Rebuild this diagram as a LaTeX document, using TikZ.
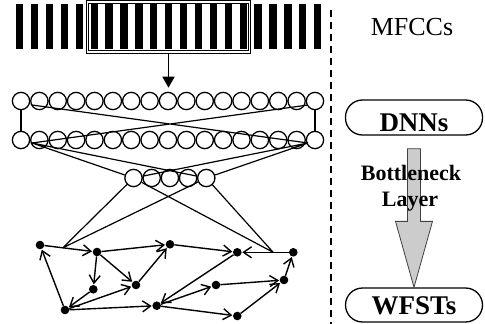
\documentclass[tikz,border=0pt]{standalone}
\usepackage{fontspec}
\setmainfont{Liberation Serif}
\usetikzlibrary{arrows.meta, calc}

\begin{document}
\begin{tikzpicture}[x=1pt, y=-1pt,
    neuron/.style={circle, draw, line width=1.3pt, minimum size=17.3pt, inner sep=0pt},
    state/.style={circle, fill, minimum size=8.6pt, inner sep=0pt},
    trans/.style={-{Straight Barb[length=8pt,width=11pt]}, line width=1.4pt, shorten >=0.5pt},
    link/.style={line width=1.2pt},
    stage/.style={draw, line width=1.3pt, rounded corners=17pt, minimum width=137pt,
        inner ysep=0pt, text depth=0pt, font=\fontsize{27}{30}\selectfont\bfseries}]
    \useasboundingbox (0,0) rectangle (485,324);
    % feature frames
    \foreach \i in {0,...,20}
        \fill (16+14.9*\i,4) rectangle ++(7.3,45);
    \node[draw, double, line width=1pt, double distance=1.4pt, minimum width=161.5pt,
        minimum height=50pt, inner sep=0pt] (win) at (168.5,27) {};
    % network
    \foreach \i in {0,...,16} {
        \node[neuron] (a\i) at (21+18.375*\i,101) {};
        \node[neuron] (b\i) at (21+18.375*\i,140) {};
    }
    \foreach \i in {0,...,4}
        \node[neuron] (c\i) at (133.5+18.2*\i,178) {};
    \draw[line width=1.8pt, -{Triangle[length=11pt,width=12pt]}, shorten >=4pt] (win.south) -- (win.south |- a8.north);
    \draw[link] (a0) -- (b0) (a16) -- (b16);
    \coordinate (tl) at (32,105);
    \coordinate (tr) at (308,105);
    \coordinate (bl) at (32,143);
    \coordinate (br) at (308,143);
    \draw[link] (tl) -- (br) (tr) -- (bl);
    \draw[link] (bl) -- (c0) (bl) -- (c4) (br) -- (c0) (br) -- (c4);
    % decoding graph
    \foreach \n/\x/\y in {1/40/245, 2/97/252, 3/170/244.3, 4/237.3/252.3, 5/293.3/252.3,
        6/93.3/289.3, 7/136/285, 8/216/285, 9/284/280, 10/65/310, 11/156.7/305.7, 12/237.3/316}
        \node[state] (s\n) at (\x,\y) {};
    \foreach \u/\v in {1/2, 2/3, 3/4, 5/4, 2/6, 2/7, 7/3, 10/1, 6/10, 10/7, 10/11, 4/11,
        11/8, 11/12, 8/9, 12/9, 9/5}
        \draw[trans] (s\u) -- (s\v);
    \coordinate (pl) at ($(s1)!0.4!(s2)$);
    \coordinate (pr) at ($(s5)!0.36!(s4)$);
    \draw[link] (c0) -- (pl) (c4) -- (pl) (c0) -- (pr) (c4) -- (pr);
    % divider
    \draw[line width=1.8pt, dash pattern=on 7pt off 5pt] (331,10) -- (331,324);
    % right column
    \node[font=\fontsize{26}{30}\selectfont, anchor=base] (mfcc) at (412,35) {MFCCs};
    \node[stage, minimum height=35pt, text height=28.4pt] (dnn) at (414,117.5) {DNNs};
    \node[stage, minimum height=34pt, text height=19pt] (wfst) at (414,305) {WFSTs};
    \draw[draw=black!75, fill=black!20, line width=0.8pt]
        ($(dnn.south)+(-6.5,13)$) -- ($(dnn.south)+(6.5,13)$) -- ($(wfst.north)+(6.5,-66)$)
        -- ($(wfst.north)+(18.5,-66)$) -- (wfst.north) -- ($(wfst.north)+(-18.5,-66)$)
        -- ($(wfst.north)+(-6.5,-66)$) -- cycle;
    \node[font=\fontsize{22}{26}\selectfont\bfseries, anchor=base] (neck) at (411,180) {Bottleneck};
    \node[font=\fontsize{22}{26}\selectfont\bfseries, anchor=base] (layer) at (410,206.7) {Layer};
\end{tikzpicture}
\end{document}
